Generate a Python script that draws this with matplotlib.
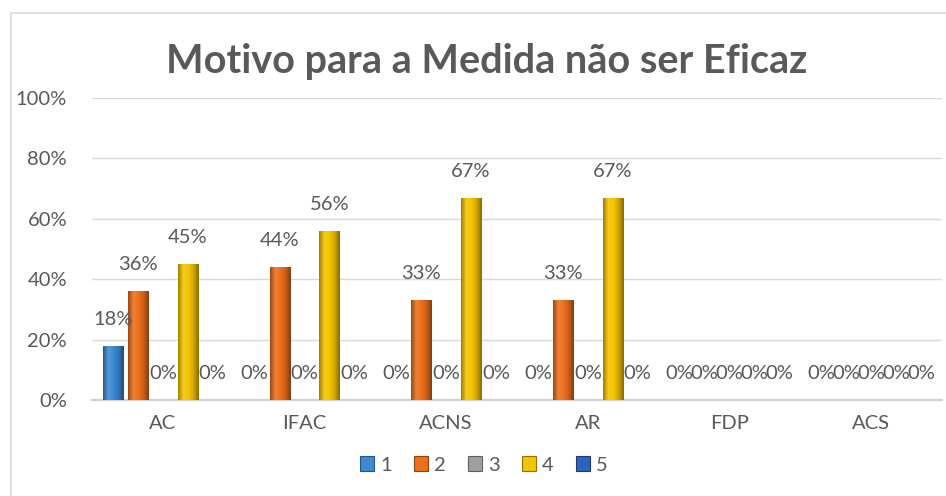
import numpy as np
import matplotlib
matplotlib.use("Agg")
import matplotlib.pyplot as plt
from matplotlib.patches import Rectangle
from matplotlib.colors import to_rgb, LinearSegmentedColormap

plt.rcParams['font.family'] = ['Lato', 'DejaVu Sans']

categories = ['AC', 'IFAC', 'ACNS', 'AR', 'FDP', 'ACS']
series_names = ['1', '2', '3', '4', '5']
s1 = [0.18, 0.0, 0.0, 0.0, 0.0, 0.0]
s2 = [0.36, 0.44, 0.33, 0.33, 0.0, 0.0]
s3 = [0.0, 0.0, 0.0, 0.0, 0.0, 0.0]
s4 = [0.45, 0.56, 0.67, 0.67, 0.0, 0.0]
s5 = [0.0, 0.0, 0.0, 0.0, 0.0, 0.0]
colors = ['#3d8ad4', '#ed6f1c', '#a0a0a0', '#f5c400', '#2e62c0']

text_col = '#595959'
grid_col = '#d9d9d9'


def shade(c, f):
    r = np.array(to_rgb(c))
    if f < 0:
        return tuple(r * (1 + f))
    return tuple(r + (1 - r) * f)


def gradient_bar(ax, x, h, w, c):
    if h <= 0:
        return
    cmap = LinearSegmentedColormap.from_list(
        'g', [shade(c, -0.35), shade(c, 0.12), c, shade(c, -0.15), shade(c, -0.45)])
    grad = np.linspace(0, 1, 64).reshape(1, -1)
    im = ax.imshow(grad, cmap=cmap, aspect='auto', extent=(x - w / 2, x + w / 2, 0, h),
                   zorder=3, interpolation='bilinear')
    rect = Rectangle((x - w / 2, 0), w, h, facecolor='none', edgecolor='none', transform=ax.transData)
    ax.add_patch(rect)
    im.set_clip_path(rect)


fig = plt.figure(figsize=(9.46, 4.96), dpi=100)
# chart border, runs off the right and bottom edges
fig.patches.append(Rectangle((11 / 946, -10 / 496), 960 / 946, 493 / 496, transform=fig.transFigure,
                             facecolor='none', edgecolor='#d9d9d9', linewidth=1.2))
ax = fig.add_axes([92 / 946, 96 / 496, 850 / 946, 302 / 496])

data = [s1, s2, s3, s4, s5]
x = np.arange(len(categories))
step = 0.176
width = 0.142
for j, vals in enumerate(data):
    for i, v in enumerate(vals):
        xp = x[i] + (j - 2) * step
        gradient_bar(ax, xp, v, width, colors[j])
        ax.annotate('{:.0f}%'.format(v * 100), (xp, v), xytext=(0, 19), textcoords='offset points',
                    ha='center', va='center', fontsize=14.5, color=text_col, zorder=5)

ax.set_xlim(-0.5, len(categories) - 0.5)
ax.set_ylim(0, 1)
ax.set_yticks(np.arange(0, 1.01, 0.2))
ax.set_yticklabels(['{:.0f}%'.format(t * 100) for t in np.arange(0, 1.01, 0.2)])
ax.set_xticks(x)
ax.set_xticklabels(categories)
ax.tick_params(axis='both', length=0, colors=text_col, labelsize=14.5)
ax.tick_params(axis='y', pad=18)
ax.tick_params(axis='x', pad=11)
ax.grid(axis='y', color=grid_col, linewidth=1)
ax.set_axisbelow(True)
for s in ['top', 'right', 'left']:
    ax.spines[s].set_visible(False)
ax.spines['bottom'].set_color('#d0d0d0')
ax.spines['bottom'].set_linewidth(1.5)

fig.text(487 / 946, 1 - 62 / 496, 'Motivo para a Medida não ser Eficaz', ha='center', va='center',
         fontsize=28.5, fontweight='bold', color=text_col)

handles = [Rectangle((0, 0), 1, 1, facecolor=c, edgecolor=shade(c, -0.4), linewidth=0.8) for c in colors]
fig.legend(handles, series_names, loc='center', bbox_to_anchor=(484 / 946, 1 - 465 / 496), ncol=5,
           frameon=False, fontsize=14.5, handlelength=0.7, handleheight=0.7, handletextpad=0.3,
           columnspacing=1.1, labelcolor=text_col)

fig.savefig('out.png', dpi=100)
